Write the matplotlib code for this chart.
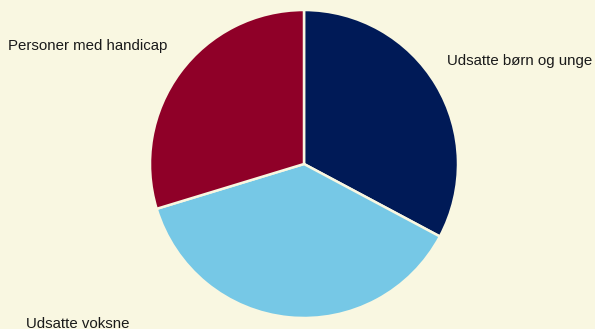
import matplotlib.pyplot as plt

labels = ["Udsatte børn og unge", "Udsatte voksne", "Personer med handicap"]
shares = [32.8, 37.5, 29.7]
colors = ["#001a57", "#76c8e6", "#8f0028"]
bg = "#f9f7e1"

fig = plt.figure(figsize=(5.95, 3.29), dpi=100, facecolor=bg)
ax = fig.add_axes([0, 0, 1, 1])
ax.set_facecolor(bg)

ax.pie(shares, colors=colors, startangle=90, counterclock=False,
       center=(304, 165), radius=154,
       wedgeprops=dict(edgecolor=bg, linewidth=1.8))

ax.set_xlim(0, 595)
ax.set_ylim(0, 329)
ax.set_aspect("equal")
ax.axis("off")

font = dict(family=["Liberation Sans", "DejaVu Sans"], fontsize=10.8, color="#1a1a1a")
ax.text(447, 268, labels[0], ha="left", va="center", **font)
ax.text(26, 5, labels[1], ha="left", va="center", **font)
ax.text(8, 283, labels[2], ha="left", va="center", **font)

fig.savefig("out.png", dpi=100, facecolor=bg)
